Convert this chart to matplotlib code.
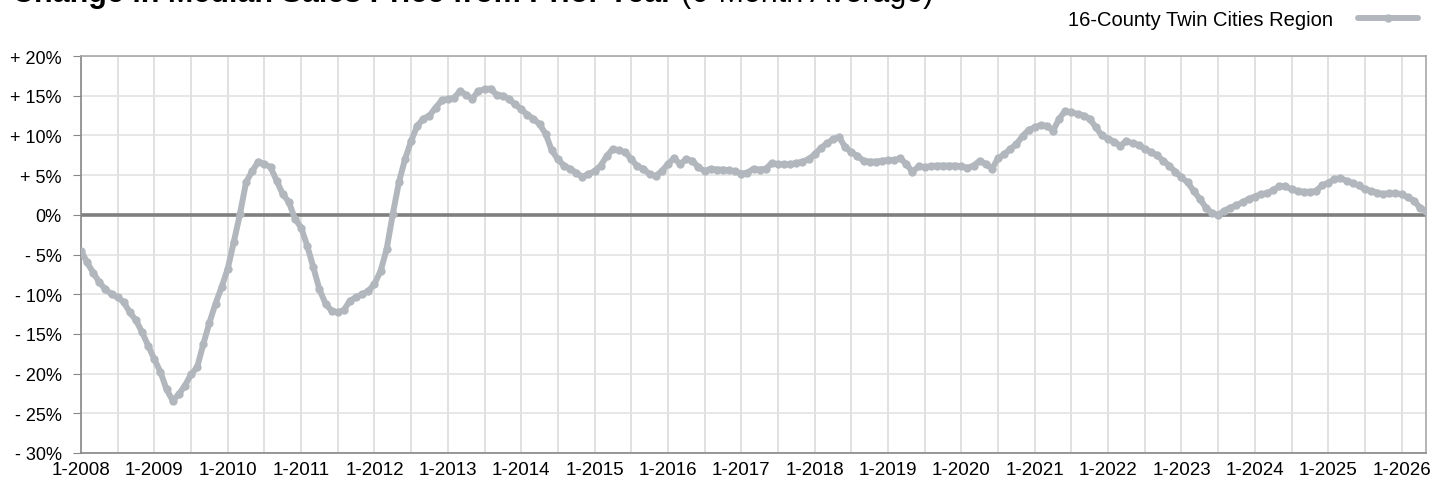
#!/usr/bin/env python3
"""
Change in Median Sales Price from Prior Year (6-Month Average)
16-County Twin Cities Region, monthly 1-2008 onward.
"""

import matplotlib
matplotlib.use("Agg")
import matplotlib.pyplot as plt
from matplotlib.ticker import FixedLocator, MultipleLocator

plt.rcParams['font.family'] = ['Liberation Sans', 'DejaVu Sans']

# Monthly values (%), first point = 1-2008
variacao = [
    -4.5, -6.0, -7.3, -8.5, -9.4, -10.0, -10.4, -11.0, -12.3, -13.3,
    -14.8, -16.5, -18.2, -19.8, -22.0, -23.4, -22.6, -21.5, -20.1, -19.2,
    -16.3, -13.6, -11.2, -9.1, -6.8, -3.4, 0.1, 4.1, 5.5, 6.7,
    6.4, 6.0, 4.3, 2.6, 1.6, -0.5, -1.6, -3.9, -6.6, -9.4,
    -11.2, -12.1, -12.3, -12.0, -10.8, -10.4, -10.0, -9.6, -8.7, -7.1,
    -4.3, 0.1, 4.1, 7.0, 9.3, 11.2, 12.1, 12.5, 13.5, 14.4,
    14.6, 14.7, 15.6, 15.1, 14.6, 15.6, 15.8, 15.9, 15.1, 15.0,
    14.6, 13.9, 13.3, 12.6, 12.1, 11.4, 10.2, 8.1, 7.0, 6.2,
    5.8, 5.3, 4.8, 5.1, 5.5, 6.2, 7.4, 8.3, 8.1, 7.9,
    7.0, 6.1, 5.8, 5.1, 4.9, 5.5, 6.4, 7.1, 6.4, 7.0,
    6.8, 6.0, 5.5, 5.8, 5.7, 5.7, 5.6, 5.5, 5.2, 5.3,
    5.8, 5.7, 5.8, 6.5, 6.4, 6.4, 6.4, 6.5, 6.7, 7.0,
    7.6, 8.4, 9.0, 9.5, 9.8, 8.5, 7.9, 7.4, 6.8, 6.7,
    6.7, 6.8, 6.9, 6.9, 7.1, 6.4, 5.4, 6.1, 6.0, 6.1,
    6.2, 6.2, 6.2, 6.2, 6.1, 5.9, 6.2, 6.8, 6.4, 5.8,
    7.1, 7.6, 8.3, 8.9, 9.9, 10.7, 11.0, 11.3, 11.2, 10.6,
    12.1, 13.1, 12.9, 12.7, 12.5, 12.1, 11.0, 10.0, 9.6, 9.2,
    8.7, 9.3, 9.0, 8.8, 8.3, 7.9, 7.5, 6.8, 6.2, 5.4,
    4.7, 4.1, 3.0, 2.0, 0.9, 0.2, 0.0, 0.5, 0.9, 1.2,
    1.6, 2.0, 2.3, 2.6, 2.7, 3.1, 3.6, 3.6, 3.2, 3.0,
    2.9, 2.9, 3.0, 3.7, 4.0, 4.5, 4.6, 4.3, 4.0, 3.7,
    3.2, 3.0, 2.8, 2.6, 2.7, 2.7, 2.6, 2.2, 1.8, 0.9,
    0.5,
]
anos = list(range(2008, 2027))
rotulos_x = [f"1-{a}" for a in anos]
rotulos_y = ["- 30%", "- 25%", "- 20%", "- 15%", "- 10%", "- 5%",
             "0%", "+ 5%", "+ 10%", "+ 15%", "+ 20%"]
valores_y = [-30, -25, -20, -15, -10, -5, 0, 5, 10, 15, 20]
serie_nome = "16-County Twin Cities Region"

cor_linha = '#b1b7bd'

fig = plt.figure(figsize=(14.44, 4.85), dpi=100)
ax = fig.add_axes([81/1444, 1 - 454/485, (1426 - 81)/1444, (454 - 57)/485])

meses = list(range(len(variacao)))

# grade
ax.xaxis.set_major_locator(FixedLocator([12 * i for i in range(len(anos))]))
ax.xaxis.set_minor_locator(MultipleLocator(6))
ax.set_yticks(valores_y)
ax.grid(True, which='both', axis='x', color='#dcdcdc', linewidth=1.2, zorder=0)
ax.grid(True, which='major', axis='y', color='#e3e3e3', linewidth=1.2, zorder=0)

ax.axhline(0, color='#7f7f7f', linewidth=2.6, zorder=2)

ax.plot(meses, variacao, color=cor_linha, linewidth=4.3, marker='o',
        markersize=6, markeredgewidth=0, solid_capstyle='round',
        zorder=3, label=serie_nome)

ax.set_xlim(0, len(variacao) - 1)
ax.set_ylim(-30, 20)
ax.set_xticklabels(rotulos_x)
ax.set_yticklabels(rotulos_y)

ax.tick_params(axis='x', which='both', length=0, labelsize=13.5, pad=6)
ax.tick_params(axis='y', length=6, color='#888888', labelsize=13, pad=8)
for lado in ['left', 'bottom']:
    ax.spines[lado].set_color('#888888')
    ax.spines[lado].set_linewidth(1.2)
for lado in ['top', 'right']:
    ax.spines[lado].set_color('#a8a8a8')
    ax.spines[lado].set_linewidth(1.2)

# legenda (marcador à direita do texto)
ax.legend(loc='center right', bbox_to_anchor=(1418/1444, 1 - 21/485),
          bbox_transform=fig.transFigure, frameon=False, markerfirst=False,
          handlelength=3.0, handletextpad=1.2, fontsize=14.5, borderpad=0,
          borderaxespad=0, numpoints=1)

# título cortado no topo
t1 = fig.text(12/1444, 1 - 2/485, "Change in Median Sales Price from Prior Year",
              fontsize=22, fontweight='bold', ha='left', va='baseline')
fig.canvas.draw()
bb = t1.get_window_extent()
fig.text(bb.x1 / fig.bbox.width + 8/1444, 1 - 2/485, "(6-Month Average)",
         fontsize=22, ha='left', va='baseline')

plt.savefig('out.png', dpi=100)
